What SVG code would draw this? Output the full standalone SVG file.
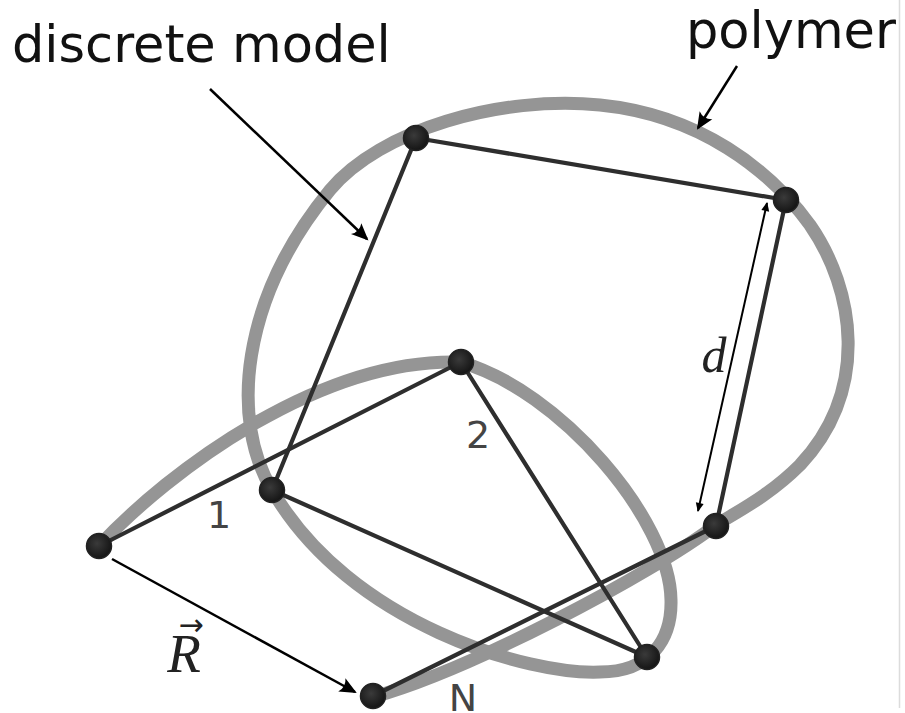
<svg xmlns="http://www.w3.org/2000/svg" width="905" height="713" viewBox="0 0 905 713">
  <defs>
    <radialGradient id="ball" cx="0.42" cy="0.4" r="0.6">
      <stop offset="0" stop-color="#3a3a3a"/>
      <stop offset="1" stop-color="#151515"/>
    </radialGradient>
    <marker id="barb" markerUnits="userSpaceOnUse" viewBox="-16 -8 19 16" markerWidth="19" markerHeight="16" refX="0" refY="0" orient="auto">
      <path d="M2,0 L-15,-7.5 Q-10,0 -15,7.5 Z" fill="#000"/>
    </marker>
    <marker id="tri" markerUnits="userSpaceOnUse" viewBox="-9 -5 11 10" markerWidth="11" markerHeight="10" refX="0" refY="0" orient="auto-start-reverse">
      <path d="M1,0 L-8,-4 L-8,4 Z" fill="#000"/>
    </marker>
  </defs>
  <style>
    .poly { fill: none; stroke: #959595; stroke-width: 13; stroke-linecap: butt; }
    .bond { stroke: #2e2e2e; stroke-width: 4.2; stroke-linecap: round; }
    .ann { stroke: #000; stroke-width: 2.5; fill: none; }
    .dim { stroke: #000; stroke-width: 2; fill: none; }
    .bead { fill: url(#ball); stroke: #222; stroke-width: 1.5; }
    .big { font-family: "DejaVu Sans", sans-serif; font-size: 51px; fill: #111; }
    .num { font-family: "DejaVu Sans", sans-serif; font-size: 38px; fill: #444; text-anchor: middle; }
    .math { font-family: "Liberation Serif", "DejaVu Serif", serif; font-style: italic; fill: #222; text-anchor: middle; }
    .vec { font-family: "DejaVu Sans", sans-serif; font-size: 30px; fill: #222; text-anchor: middle; }
  </style>
  <rect width="905" height="713" fill="#fff"/>
  <line x1="899.5" y1="0" x2="899.5" y2="708" stroke="#dcdcdc" stroke-width="1.5"/>

  <g id="polymer-curve">
    <path class="poly" d="M99,546 C170,470 320,358 460,362 C560,390 670,520 671,600 C672,640 650,672 600,672 C530,675 350,625 272,490 C230,420 240,300 330,190 C380,130 500,95 600,105 C700,115 770,170 810,225 C855,290 870,390 800,465 C770,495 740,510 716,525 C650,575 470,670 373,697"/>
  </g>

  <g id="connectors">
    <line class="bond" x1="99" y1="546" x2="461" y2="362"/>
    <line class="bond" x1="461" y1="362" x2="647" y2="657"/>
    <line class="bond" x1="647" y1="657" x2="272" y2="490"/>
    <line class="bond" x1="272" y1="490" x2="416" y2="138"/>
    <line class="bond" x1="416" y1="138" x2="786" y2="200"/>
    <line class="bond" x1="786" y1="200" x2="716" y2="526"/>
    <line class="bond" x1="716" y1="526" x2="373" y2="696" stroke-width="5"/>
    <line class="ann" x1="210" y1="89" x2="367" y2="239" marker-end="url(#barb)"/>
    <line class="ann" x1="737" y1="66" x2="698" y2="128" marker-end="url(#barb)"/>
    <line class="ann" x1="112" y1="559" x2="355" y2="692" marker-end="url(#barb)"/>
    <line class="dim" x1="767" y1="203" x2="698" y2="511" marker-start="url(#tri)" marker-end="url(#tri)"/>
  </g>

  <g id="bead-0"><circle class="bead" cx="99" cy="546" r="12.5"/></g>
  <g id="bead-1"><circle class="bead" cx="461" cy="362" r="12.5"/></g>
  <g id="bead-2"><circle class="bead" cx="647" cy="657" r="12.5"/></g>
  <g id="bead-3"><circle class="bead" cx="272" cy="490" r="12.5"/></g>
  <g id="bead-4"><circle class="bead" cx="416" cy="138" r="12.5"/></g>
  <g id="bead-5"><circle class="bead" cx="786" cy="200" r="12.5"/></g>
  <g id="bead-6"><circle class="bead" cx="716" cy="526" r="12.5"/></g>
  <g id="bead-7"><circle class="bead" cx="373" cy="696" r="12.5"/></g>

  <g id="labels">
    <text class="big" x="12" y="62">discrete model</text>
    <text class="big" x="686" y="48">polymer</text>
    <text class="num" x="219" y="528">1</text>
    <text class="num" x="478" y="448">2</text>
    <text class="num" x="463" y="711">N</text>
    <text class="math" x="714" y="372" font-size="50">d</text>
    <text class="math" x="184" y="672" font-size="55">R</text>
    <text class="vec" x="191" y="635" font-size="30">→</text>
  </g>
</svg>
